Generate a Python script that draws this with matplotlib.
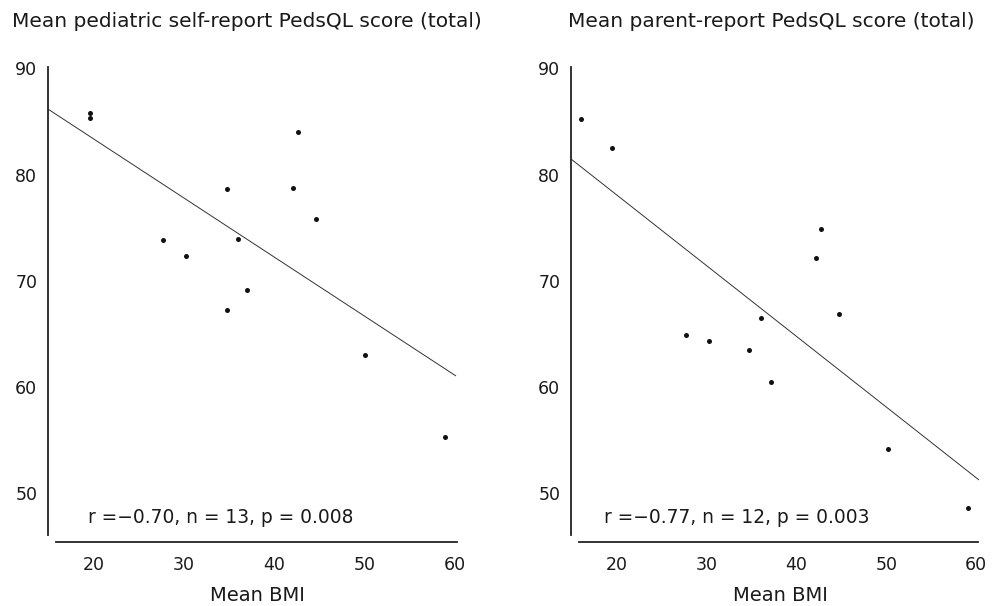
import matplotlib
matplotlib.use("Agg")
import matplotlib.pyplot as plt

plt.rcParams['font.family'] = ['DejaVu Sans']

# ---- data ----
self_bmi = [19.56, 19.56, 42.6, 34.81, 42.12, 44.64, 27.74, 35.97, 30.25, 37.03, 34.75, 50.05, 58.9]
self_score = [85.76, 85.29, 84.03, 78.61, 78.73, 75.79, 73.81, 73.91, 72.33, 69.13, 67.25, 63.02, 55.27]
self_fit_x = [15.0, 60.1]
self_fit_y = [86.14, 61.04]

parent_bmi = [16.08, 19.52, 42.74, 42.19, 44.78, 36.04, 27.78, 30.3, 34.78, 37.16, 50.19, 59.08]
parent_score = [85.2, 82.47, 74.85, 72.12, 66.9, 66.53, 64.87, 64.31, 63.46, 60.48, 54.2, 48.65]
parent_fit_x = [15.0, 60.3]
parent_fit_y = [81.44, 51.25]

titles = ["Mean pediatric self-report PedsQL score (total)",
          "Mean parent-report PedsQL score (total)"]
stats = ["r =\u22120.70, n = 13, p = 0.008",
         "r =\u22120.77, n = 12, p = 0.003"]
stat_x = [19.35, 18.6]
xlabel = "Mean BMI"
xticks = [20, 30, 40, 50, 60]
yticks = [50, 60, 70, 80, 90]

W, H = 994, 606
fig = plt.figure(figsize=(W / 100, H / 100), dpi=100)

TXT = '#1a1a1a'
axes_rects = [
    [48.3 / W, (H - 534.7) / H, 408.6 / W, 467.5 / H],
    [571.3 / W, (H - 534.7) / H, 406.8 / W, 467.5 / H],
]
panels = [
    (self_bmi, self_score, self_fit_x, self_fit_y),
    (parent_bmi, parent_score, parent_fit_x, parent_fit_y),
]
title_x = [11.7, 568.0]
xlabel_x = [257.5, 780.0]

for i, (rect, (bx, sy, fx, fy)) in enumerate(zip(axes_rects, panels)):
    ax = fig.add_axes(rect)
    ax.set_xlim(15, 60.2)
    ax.set_ylim(46.1, 90.1)
    ax.plot(fx, fy, color='#333333', lw=0.7, clip_on=False, solid_capstyle='butt')
    ax.plot(bx, sy, 'o', ms=3.6, color='#111111', mec='none', clip_on=False)
    for s in ['top', 'right']:
        ax.spines[s].set_visible(False)
    ax.spines['left'].set_linewidth(1.3)
    ax.spines['left'].set_color('#222222')
    ax.spines['bottom'].set_linewidth(1.3)
    ax.spines['bottom'].set_color('#222222')
    ax.spines['bottom'].set_position(('outward', 5.5))
    ax.spines['bottom'].set_bounds(15.8, 60.2)
    ax.set_xticks(xticks)
    ax.set_yticks(yticks)
    ax.tick_params(axis='both', length=0, labelsize=12.5, colors=TXT)
    ax.tick_params(axis='x', pad=10)
    ax.tick_params(axis='y', pad=8)
    ax.text(stat_x[i], 47.23, stats[i], fontsize=13.4, color=TXT,
            ha='left', va='baseline')
    fig.text(title_x[i] / W, 1 - 27 / H, titles[i], fontsize=14.5, color=TXT,
             ha='left', va='baseline')
    fig.text(xlabel_x[i] / W, 5 / H, xlabel, fontsize=14, color=TXT,
             ha='center', va='baseline')

fig.savefig('out.png', dpi=100)
